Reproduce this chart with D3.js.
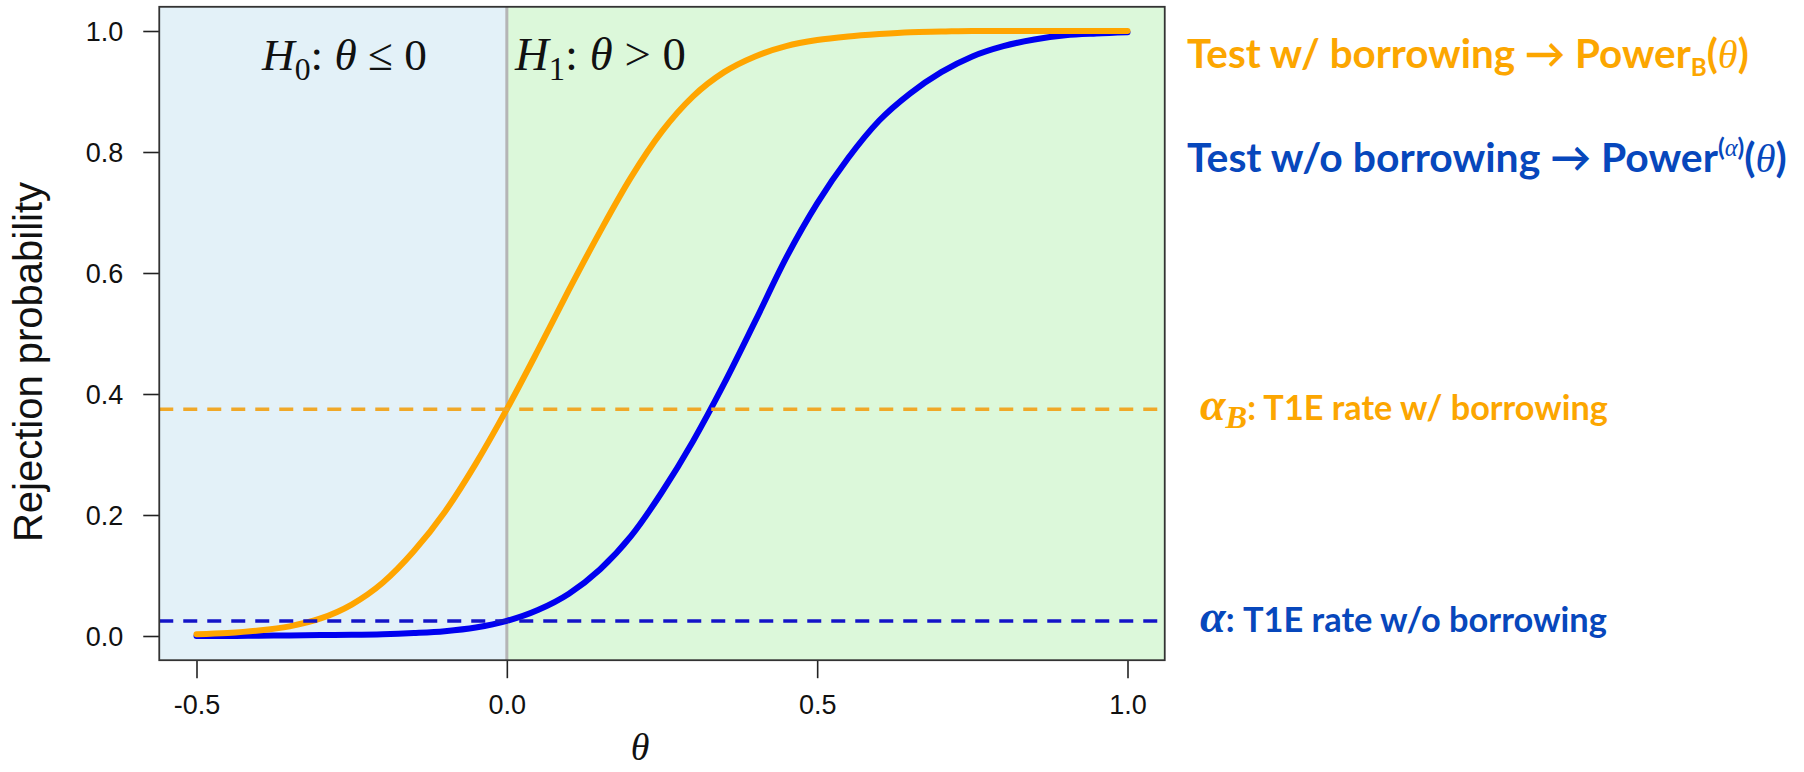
<!DOCTYPE html>
<html><head><meta charset="utf-8">
<script src="https://cdn.jsdelivr.net/npm/d3@7"></script>
<style>body{margin:0;background:#fff;} svg{display:block;}</style>
</head><body>
<svg id="chart" width="1804" height="772"></svg>
<script>
// ---------------- data ----------------
const theta = [-0.5,-0.45,-0.4,-0.35,-0.3,-0.25,-0.2,-0.15,-0.1,-0.05,0,0.05,0.1,0.15,0.2,0.25,0.3,0.35,0.4,0.45,0.5,0.55,0.6,0.65,0.7,0.75,0.8,0.85,0.9,0.95,1.0];
const powerWithBorrowing = [0.003,0.005,0.009,0.016,0.029,0.052,0.088,0.14,0.205,0.285,0.375,0.472,0.572,0.668,0.758,0.834,0.892,0.932,0.958,0.975,0.985,0.991,0.995,0.998,0.999,1.0,1.0,1.0,1.0,1.0,1.0];
const powerWithoutBorrowing = [0.0,0.0,0.0005,0.001,0.0015,0.002,0.003,0.005,0.008,0.014,0.025,0.043,0.07,0.11,0.165,0.238,0.322,0.417,0.52,0.625,0.715,0.79,0.852,0.897,0.932,0.958,0.975,0.986,0.993,0.996,0.998];
const alphaB = 0.375;   // T1E rate with borrowing
const alpha = 0.025;    // T1E rate without borrowing
const nullBoundary = 0;
const xTicks = [-0.5, 0, 0.5, 1.0];
const xTickLabels = ["-0.5", "0.0", "0.5", "1.0"];
const yTicks = [0, 0.2, 0.4, 0.6, 0.8, 1.0];
const yTickLabels = ["0.0", "0.2", "0.4", "0.6", "0.8", "1.0"];
const yAxisTitle = "Rejection probability";

// ---------------- layout ----------------
const ORANGE = "#FFA500", BLUE = "#0000F0";
const ORANGE_TXT = "#FCA600", BLUE_TXT = "#0747BC";
const svg = d3.select("#chart");
const x = d3.scaleLinear().domain([-0.5, 1.0]).range([196.5, 1127.5]);
const y = d3.scaleLinear().domain([0, 1]).range([636, 31]);
const xLo = x(-0.56), xHi = x(1.06), yLo = y(-0.04), yHi = y(1.04);

// backgrounds
svg.append("rect").attr("x", xLo).attr("y", yHi).attr("width", x(nullBoundary) - xLo).attr("height", yLo - yHi).attr("fill", "#E3F1F8");
svg.append("rect").attr("x", x(nullBoundary)).attr("y", yHi).attr("width", xHi - x(nullBoundary)).attr("height", yLo - yHi).attr("fill", "#DCF8DA");
svg.append("line").attr("x1", x(nullBoundary)).attr("x2", x(nullBoundary)).attr("y1", yHi).attr("y2", yLo)
  .attr("stroke", "#B5B5B5").attr("stroke-width", 3);

// axes
const xAxis = d3.axisBottom(x).tickValues(xTicks).tickFormat((d, i) => xTickLabels[i]).tickSize(18).tickPadding(10);
const gx = svg.append("g").attr("transform", `translate(0,${yLo})`).call(xAxis);
gx.select(".domain").remove();
gx.selectAll("line").attr("stroke", "#222").attr("stroke-width", 1.6);
gx.selectAll("text").style("font-family", "'Liberation Sans', Arial, sans-serif").style("font-size", "27px").attr("fill", "#111").attr("dy", "0.95em");

const yAxis = d3.axisLeft(y).tickValues(yTicks).tickFormat((d, i) => yTickLabels[i]).tickSize(16).tickPadding(20);
const gy = svg.append("g").attr("transform", `translate(${xLo},0)`).call(yAxis);
gy.select(".domain").remove();
gy.selectAll("line").attr("stroke", "#222").attr("stroke-width", 1.6);
gy.selectAll("text").style("font-family", "'Liberation Sans', Arial, sans-serif").style("font-size", "27px").attr("fill", "#111").attr("dy", "0.36em");

// curves
const line = d3.line().x(d => x(d[0])).y(d => y(d[1])).curve(d3.curveMonotoneX);
svg.append("path").datum(theta.map((t, i) => [t, powerWithoutBorrowing[i]])).attr("d", line)
  .attr("fill", "none").attr("stroke", BLUE).attr("stroke-width", 6).attr("stroke-linecap", "round").attr("stroke-linejoin", "round");
svg.append("path").datum(theta.map((t, i) => [t, powerWithBorrowing[i]])).attr("d", line)
  .attr("fill", "none").attr("stroke", ORANGE).attr("stroke-width", 6).attr("stroke-linecap", "round").attr("stroke-linejoin", "round");

// reference dashed lines
svg.append("line").attr("x1", xLo).attr("x2", xHi).attr("y1", y(alphaB)).attr("y2", y(alphaB))
  .attr("stroke", "#F0A828").attr("stroke-width", 3.5).attr("stroke-dasharray", "14,10");
svg.append("line").attr("x1", xLo).attr("x2", xHi).attr("y1", y(alpha)).attr("y2", y(alpha))
  .attr("stroke", "#1414C8").attr("stroke-width", 3.5).attr("stroke-dasharray", "14,10");

// plot box
svg.append("rect").attr("x", xLo).attr("y", yHi).attr("width", xHi - xLo).attr("height", yLo - yHi)
  .attr("fill", "none").attr("stroke", "#333").attr("stroke-width", 1.8);

// axis titles
svg.append("text").attr("transform", `translate(42,362) rotate(-90)`).attr("text-anchor", "middle")
  .style("font-family", "'Liberation Sans', Arial, sans-serif").style("font-size", "40px").attr("fill", "#111").text(yAxisTitle);
svg.append("text").attr("x", 640).attr("y", 760).attr("text-anchor", "middle")
  .style("font-family", "'Liberation Serif', serif").style("font-style", "italic").style("font-size", "38px").attr("fill", "#111").text("θ");

// rich text helper
const SERIF = "'Liberation Serif', 'DejaVu Serif', serif";
function rich(px, py, size, family, weight, color, segs, targetW) {
  const t = svg.append("text").attr("x", px).attr("y", py).attr("fill", color)
    .style("font-family", family).style("font-weight", weight);
  function build(s) {
    t.selectAll("tspan").remove();
    let cur = 0;
    segs.forEach(sg => {
      const shift = (sg.shift || 0) * s;
      const ts = t.append("tspan").text(sg.t).style("font-size", ((sg.scale || 1) * s) + "px").attr("dy", shift - cur);
      cur = shift;
      if (sg.serif) ts.style("font-family", SERIF).style("font-weight", sg.bold ? "bold" : "normal");
      if (sg.italic) ts.style("font-style", "italic");
    });
  }
  build(size);
  if (targetW) { const w = t.node().getBBox().width; build(size * targetW / w); }
  return t;
}

const SANS = "Lato, 'Open Sans', sans-serif";
// hypothesis labels
rich(262, 70, 40, SERIF, "normal", "#111", [
  {t: "H", italic: true}, {t: "0", scale: 0.7, shift: 0.22}, {t: ": "}, {t: "θ", italic: true}, {t: " ≤ 0"}
], 166);
rich(515, 70, 40, SERIF, "normal", "#111", [
  {t: "H", italic: true}, {t: "1", scale: 0.7, shift: 0.22}, {t: ": "}, {t: "θ", italic: true}, {t: " > 0"}
], 172);

// legend-like annotations
rich(1187, 68, 38, SANS, "bold", ORANGE_TXT, [
  {t: "Test w/ borrowing → Power"}, {t: "B", scale: 0.6, shift: 0.2}, {t: "("}, {t: "θ", serif: true, italic: true}, {t: ")"}
], 562);
rich(1187, 172, 38, SANS, "bold", BLUE_TXT, [
  {t: "Test w/o borrowing → Power"}, {t: "(", scale: 0.6, shift: -0.38}, {t: "α", scale: 0.6, shift: -0.38, serif: true, italic: true}, {t: ")", scale: 0.6, shift: -0.38},
  {t: "("}, {t: "θ", serif: true, italic: true}, {t: ")"}
], 600);
rich(1200, 420, 32, SANS, "bold", ORANGE_TXT, [
  {t: "α", serif: true, italic: true, bold: true, scale: 1.35}, {t: "B", serif: true, italic: true, bold: true, scale: 0.95, shift: 0.22}, {t: ": T1E rate w/ borrowing"}
], 408);
rich(1200, 632, 32, SANS, "bold", BLUE_TXT, [
  {t: "α", serif: true, italic: true, bold: true, scale: 1.35}, {t: ": T1E rate w/o borrowing"}
], 407);
</script>
</body></html>
